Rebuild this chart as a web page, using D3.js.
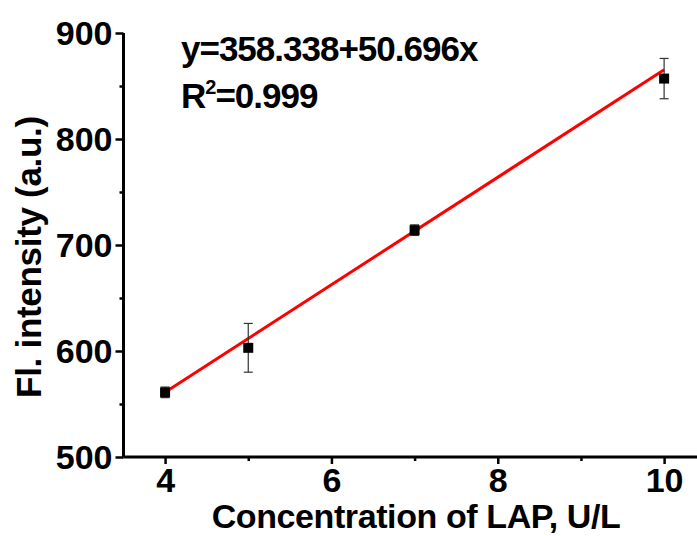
<!DOCTYPE html>
<html><head><meta charset="utf-8">
<script src="https://cdn.jsdelivr.net/npm/d3@7"></script>
<style>
html,body{margin:0;padding:0;background:#fff;}
svg{display:block;}
text{font-family:"Liberation Sans",Arial,sans-serif;font-weight:bold;fill:#000;}
</style></head><body>
<script>
const concentrations = [4, 5, 7, 10];
const intensities = [561, 603, 714, 857];
const errors = [5, 23, 5, 19];
const intercept = 358.338;
const slope = 50.696;
const xTicks = [4, 6, 8, 10];
const xMinorTicks = [5, 7, 9];
const yTicks = [500, 600, 700, 800, 900];
const yMinorTicks = [550, 650, 750, 850];
const equationText = "y=358.338+50.696x";
const xTitle = "Concentration of LAP, U/L";
const yTitle = "Fl. intensity (a.u.)";

const W = 697, H = 536;
const FS = 35;
const svg = d3.select("body").append("svg").attr("width", W).attr("height", H);
const x = d3.scaleLinear().domain([3.5, 10.5]).range([123.5, 705.7]);
const y = d3.scaleLinear().domain([500, 900]).range([457, 33]);

// axes
const xAxis = svg.append("g").attr("transform", `translate(0,${y(500)})`)
  .call(d3.axisBottom(x).tickValues(xTicks).tickSize(7).tickPadding(4).tickFormat(d3.format("d")));
const xMinor = svg.append("g").attr("transform", `translate(0,${y(500)})`)
  .call(d3.axisBottom(x).tickValues(xMinorTicks).tickSize(4).tickFormat(""));
const yAxis = svg.append("g").attr("transform", `translate(${x(3.5)},0)`)
  .call(d3.axisLeft(y).tickValues(yTicks).tickSize(8).tickPadding(3).tickFormat(d3.format("d")));
const yMinor = svg.append("g").attr("transform", `translate(${x(3.5)},0)`)
  .call(d3.axisLeft(y).tickValues(yMinorTicks).tickSize(4).tickFormat(""));
[xAxis, xMinor, yAxis, yMinor].forEach(g => {
  g.selectAll(".domain").attr("stroke", "#000").attr("stroke-width", 3);
  g.selectAll(".tick line").attr("stroke", "#000").attr("stroke-width", 2.5);
});
[xMinor, yMinor].forEach(g => g.select(".domain").remove());
xAxis.select(".domain").attr("d", `M${x(3.5)},0H${W + 10}`);
yAxis.select(".domain").attr("d", `M0,${y(900)}V${y(500)}`);
[xAxis, yAxis].forEach(g => g.selectAll(".tick text")
  .attr("font-size", 34).attr("font-family", "Liberation Sans, Arial, sans-serif")
  .attr("font-weight", "bold").attr("fill", "#000").attr("letter-spacing", 0));
yAxis.selectAll(".tick text").attr("dy", "0.33em");

// fit line
const fitX = [concentrations[0], concentrations[concentrations.length - 1]];
svg.append("line")
  .attr("x1", x(fitX[0])).attr("y1", y(intercept + slope * fitX[0]))
  .attr("x2", x(fitX[1])).attr("y2", y(intercept + slope * fitX[1]))
  .attr("stroke", "#ff0000").attr("stroke-width", 3);

// error bars
const eb = svg.append("g").attr("stroke", "#333").attr("stroke-width", 1.2);
concentrations.forEach((c, i) => {
  const cx = x(c), top = y(intensities[i] + errors[i]), bot = y(intensities[i] - errors[i]);
  eb.append("line").attr("x1", cx).attr("x2", cx).attr("y1", top).attr("y2", bot);
  eb.append("line").attr("x1", cx - 4.5).attr("x2", cx + 4.5).attr("y1", top).attr("y2", top);
  eb.append("line").attr("x1", cx - 4.5).attr("x2", cx + 4.5).attr("y1", bot).attr("y2", bot);
});
// markers
svg.append("g").selectAll("rect").data(concentrations).join("rect")
  .attr("x", d => x(d) - 5).attr("y", (d, i) => y(intensities[i]) - 5)
  .attr("width", 10).attr("height", 10).attr("fill", "#000");

// equation text
svg.append("text").attr("x", 181).attr("y", 61).attr("font-size", FS).attr("letter-spacing", -1).text(equationText);
const r = svg.append("text").attr("x", 181).attr("y", 108).attr("font-size", FS).attr("letter-spacing", -1);
r.append("tspan").text("R");
r.append("tspan").attr("font-size", 20).attr("dy", -14).text("2");
r.append("tspan").attr("dy", 14).text("=0.999");

// titles
svg.append("text").attr("x", 416).attr("y", 528).attr("text-anchor", "middle").attr("font-size", 34).attr("letter-spacing", -0.4).text(xTitle);
svg.append("text").attr("transform", "translate(41,257) rotate(-90)").attr("text-anchor", "middle").attr("font-size", FS).attr("letter-spacing", -0.3).text(yTitle);
</script>
</body></html>
